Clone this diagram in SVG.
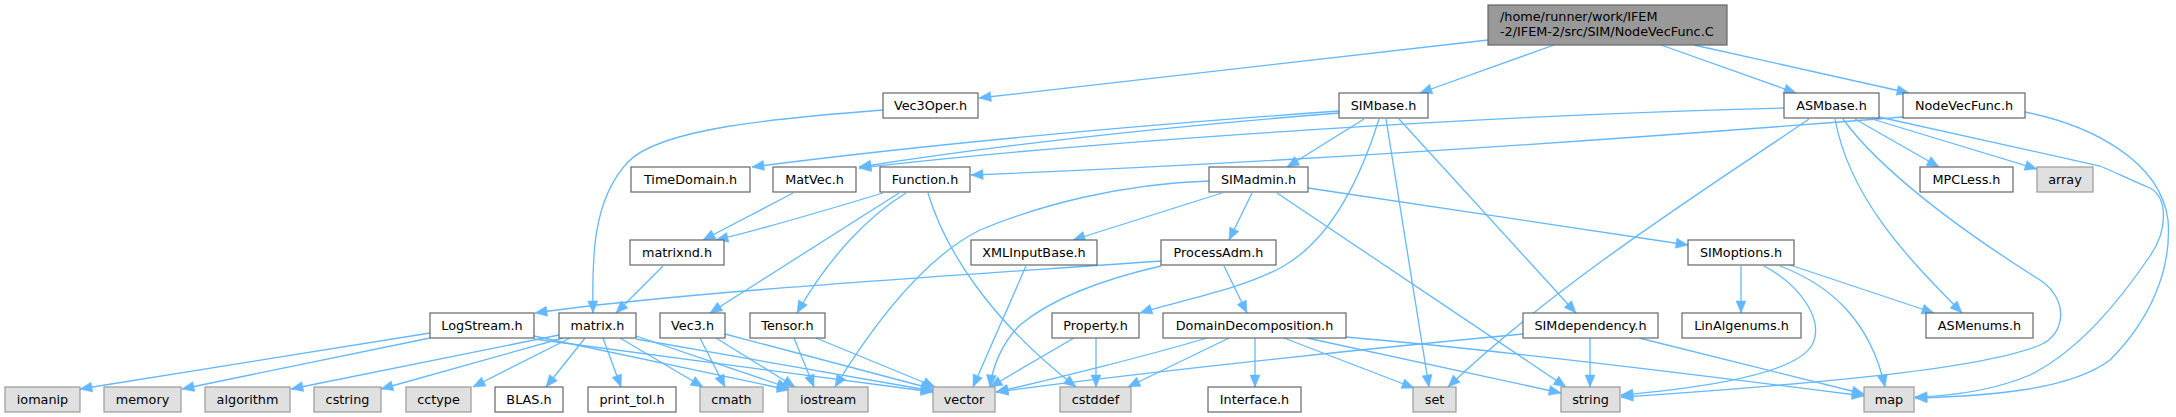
<svg xmlns="http://www.w3.org/2000/svg" width="2176" height="417" viewBox="0 0 2176 417">
<defs>
<style>
.n rect{fill:#ffffff;stroke:#666666;stroke-width:1.2}
.x rect{fill:#e0e0e0;stroke:#999999;stroke-width:1.2}
.m rect{fill:#999999;stroke:#666666;stroke-width:1.2}
text{font-family:"DejaVu Sans","Liberation Sans",sans-serif;font-size:12.8px;fill:#000000;text-anchor:middle}
.m text{text-anchor:start}
#edges path{fill:none;stroke:#63b8ff;stroke-width:1.3;marker-end:url(#a)}
</style>
<marker id="a" markerUnits="userSpaceOnUse" markerWidth="12" markerHeight="10" refX="12" refY="5" orient="auto" overflow="visible">
<path d="M0,0 L12,5 L0,10 z" fill="#63b8ff" stroke="#63b8ff" stroke-width="0.5"/>
</marker>
</defs>
<rect width="2176" height="417" fill="#ffffff"/>
<g id="edges">
<path d="M1488,40 L979,98"/>
<path d="M1554,45 L1420,93"/>
<path d="M1661,45 L1796,93"/>
<path d="M1694,45 L1909,93"/>
<path d="M883,110 C780,118 660,128 628,162 C592,200 592,260 593,313"/>
<path d="M1339,111 C1100,128 900,148 752,167"/>
<path d="M1339,113 C1150,128 980,148 859,167"/>
<path d="M1784,108 C1500,115 1100,140 859,168"/>
<path d="M1903,117 C1650,137 1300,162 971,175"/>
<path d="M1364,119 L1287,167"/>
<path d="M1379,119 C1360,180 1330,240 1282,267 C1240,290 1180,300 1140,313"/>
<path d="M1386,119 L1429,387"/>
<path d="M1399,119 L1576,313"/>
<path d="M1809,119 C1720,180 1560,280 1448,387"/>
<path d="M1835,119 C1850,200 1910,260 1962,313"/>
<path d="M1843,119 C1880,170 1960,230 2040,280 C2070,300 2065,335 2040,345 C1980,370 1800,385 1621,397"/>
<path d="M1855,119 L1939,167"/>
<path d="M1872,119 L2037,169"/>
<path d="M1879,117 L2100,166 C2115,172 2130,180 2150,188 C2168,198 2168,230 2150,256 C2120,300 2080,350 2030,375 C1990,392 1950,396 1915,397"/>
<path d="M2025,112 C2090,125 2160,160 2168,220 C2172,270 2150,320 2110,360 C2070,390 1990,396 1915,398"/>
<path d="M1222,193 L1073,240"/>
<path d="M1252,193 L1229,240"/>
<path d="M1209,181 C1120,184 1040,205 980,230 C920,260 870,330 835,387"/>
<path d="M1277,193 L1566,387"/>
<path d="M1308,188 L1688,245"/>
<path d="M1161,261 C950,276 680,292 535,313"/>
<path d="M1161,266 C1100,280 1050,300 1020,325 C1000,345 992,370 990,387"/>
<path d="M1224,266 L1247,313"/>
<path d="M1026,266 L973,387"/>
<path d="M883,193 C820,212 760,230 716,240"/>
<path d="M793,193 L703,240"/>
<path d="M899,193 L710,313"/>
<path d="M906,193 C870,215 830,255 797,313"/>
<path d="M928,193 C945,250 990,320 1076,387"/>
<path d="M663,266 L616,313"/>
<path d="M430,333 L80,389"/>
<path d="M430,338 L182,389"/>
<path d="M534,336 L789,390"/>
<path d="M534,339 L933,392"/>
<path d="M559,335 L291,389"/>
<path d="M563,338 L381,389"/>
<path d="M570,338 L473,387"/>
<path d="M585,338 L546,387"/>
<path d="M603,338 L621,387"/>
<path d="M620,338 L703,387"/>
<path d="M636,336 L789,388"/>
<path d="M636,339 L933,391"/>
<path d="M700,338 L725,387"/>
<path d="M716,338 L795,387"/>
<path d="M725,334 L933,389"/>
<path d="M794,338 L814,387"/>
<path d="M816,338 L935,387"/>
<path d="M1074,338 L990,387"/>
<path d="M1096,338 L1096,387"/>
<path d="M1207,338 C1150,355 1050,380 996,392"/>
<path d="M1229,338 L1128,387"/>
<path d="M1255,338 L1255,387"/>
<path d="M1284,338 L1414,388"/>
<path d="M1307,338 L1561,393"/>
<path d="M1346,337 C1500,350 1700,375 1864,396"/>
<path d="M1523,334 C1300,355 1100,378 996,392"/>
<path d="M1590,338 L1590,387"/>
<path d="M1639,338 L1864,394"/>
<path d="M1741,266 L1741,313"/>
<path d="M1764,266 C1800,285 1825,320 1812,345 C1795,375 1700,388 1621,395"/>
<path d="M1780,266 C1830,285 1870,320 1885,387"/>
<path d="M1790,265 L1934,313"/>
</g>
<g id="main" class="m"><rect x="1488" y="5" width="239" height="40"/><text x="1500" y="20.5">/home/runner/work/IFEM</text><text x="1500" y="36">-2/IFEM-2/src/SIM/NodeVecFunc.C</text></g>
<g id="vec3oper" class="n"><rect x="883" y="93" width="95" height="25"/><text x="930.5" y="110">Vec3Oper.h</text></g>
<g id="simbase" class="n"><rect x="1339" y="93" width="89" height="25"/><text x="1383.5" y="110">SIMbase.h</text></g>
<g id="asmbase" class="n"><rect x="1784" y="93" width="95" height="25"/><text x="1831.5" y="110">ASMbase.h</text></g>
<g id="nodevecfunc" class="n"><rect x="1903" y="93" width="122" height="25"/><text x="1964" y="110">NodeVecFunc.h</text></g>
<g id="timedomain" class="n"><rect x="631" y="167" width="119" height="25"/><text x="690.5" y="184">TimeDomain.h</text></g>
<g id="matvec" class="n"><rect x="773" y="167" width="83" height="25"/><text x="814.5" y="184">MatVec.h</text></g>
<g id="function" class="n"><rect x="880" y="167" width="90" height="25"/><text x="925" y="184">Function.h</text></g>
<g id="simadmin" class="n"><rect x="1209" y="167" width="99" height="25"/><text x="1258.5" y="184">SIMadmin.h</text></g>
<g id="mpcless" class="n"><rect x="1920" y="167" width="93" height="25"/><text x="1966.5" y="184">MPCLess.h</text></g>
<g id="array" class="x"><rect x="2037" y="167" width="56" height="25"/><text x="2065" y="184">array</text></g>
<g id="matrixnd" class="n"><rect x="630" y="240" width="94" height="25"/><text x="677" y="257">matrixnd.h</text></g>
<g id="xmlinputbase" class="n"><rect x="971" y="240" width="126" height="25"/><text x="1034" y="257">XMLInputBase.h</text></g>
<g id="processadm" class="n"><rect x="1161" y="240" width="115" height="25"/><text x="1218.5" y="257">ProcessAdm.h</text></g>
<g id="simoptions" class="n"><rect x="1688" y="240" width="106" height="25"/><text x="1741" y="257">SIMoptions.h</text></g>
<g id="logstream" class="n"><rect x="430" y="313" width="104" height="25"/><text x="482" y="330">LogStream.h</text></g>
<g id="matrix" class="n"><rect x="559" y="313" width="77" height="25"/><text x="597.5" y="330">matrix.h</text></g>
<g id="vec3" class="n"><rect x="660" y="313" width="65" height="25"/><text x="692.5" y="330">Vec3.h</text></g>
<g id="tensor" class="n"><rect x="750" y="313" width="75" height="25"/><text x="787.5" y="330">Tensor.h</text></g>
<g id="property" class="n"><rect x="1052" y="313" width="87" height="25"/><text x="1095.5" y="330">Property.h</text></g>
<g id="domaindecomposition" class="n"><rect x="1163" y="313" width="183" height="25"/><text x="1254.5" y="330">DomainDecomposition.h</text></g>
<g id="simdependency" class="n"><rect x="1523" y="313" width="135" height="25"/><text x="1590.5" y="330">SIMdependency.h</text></g>
<g id="linalgenums" class="n"><rect x="1682" y="313" width="119" height="25"/><text x="1741.5" y="330">LinAlgenums.h</text></g>
<g id="asmenums" class="n"><rect x="1926" y="313" width="107" height="25"/><text x="1979.5" y="330">ASMenums.h</text></g>
<g id="iomanip" class="x"><rect x="5" y="387" width="75" height="25"/><text x="42.5" y="404">iomanip</text></g>
<g id="memory" class="x"><rect x="104" y="387" width="77" height="25"/><text x="142.5" y="404">memory</text></g>
<g id="algorithm" class="x"><rect x="205" y="387" width="85" height="25"/><text x="247.5" y="404">algorithm</text></g>
<g id="cstring" class="x"><rect x="314" y="387" width="67" height="25"/><text x="347.5" y="404">cstring</text></g>
<g id="cctype" class="x"><rect x="406" y="387" width="65" height="25"/><text x="438.5" y="404">cctype</text></g>
<g id="blas" class="n"><rect x="495" y="387" width="68" height="25"/><text x="529" y="404">BLAS.h</text></g>
<g id="printtol" class="n"><rect x="588" y="387" width="88" height="25"/><text x="632" y="404">print_tol.h</text></g>
<g id="cmath" class="x"><rect x="700" y="387" width="63" height="25"/><text x="731.5" y="404">cmath</text></g>
<g id="iostream" class="x"><rect x="788" y="387" width="80" height="25"/><text x="828" y="404">iostream</text></g>
<g id="vector" class="x"><rect x="933" y="387" width="62" height="25"/><text x="964" y="404">vector</text></g>
<g id="cstddef" class="x"><rect x="1060" y="387" width="71" height="25"/><text x="1095.5" y="404">cstddef</text></g>
<g id="interface" class="n"><rect x="1208" y="387" width="93" height="25"/><text x="1254.5" y="404">Interface.h</text></g>
<g id="set" class="x"><rect x="1413" y="387" width="43" height="25"/><text x="1434.5" y="404">set</text></g>
<g id="string" class="x"><rect x="1561" y="387" width="59" height="25"/><text x="1590.5" y="404">string</text></g>
<g id="map" class="x"><rect x="1864" y="387" width="50" height="25"/><text x="1889" y="404">map</text></g>
</svg>
